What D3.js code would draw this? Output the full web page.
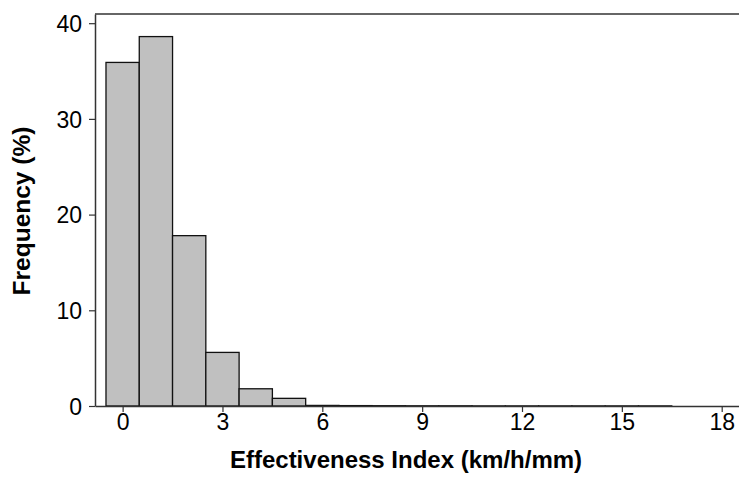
<!DOCTYPE html>
<html>
<head>
<meta charset="utf-8">
<script src="https://cdn.jsdelivr.net/npm/d3@7"></script>
<style>
  body { margin: 0; background: #fff; }
  svg { display: block; font-family: "Liberation Sans", Arial, sans-serif; }
</style>
</head>
<body>
<svg id="chart" width="739" height="479"></svg>
<script>
// histogram bins centred on 0..16, width 1
const binCenters = [0, 1, 2, 3, 4, 5, 6, 7, 8, 9, 10, 11, 12, 13, 14, 15, 16]
const frequency = [35.9, 38.6, 17.8, 5.6, 1.8, 0.8, 0.06, 0.04, 0.03, 0.02, 0.02, 0.01, 0.01, 0.01, 0.01, 0.01, 0.01]
const xTicks = [0, 3, 6, 9, 12, 15, 18]
const yTicks = [0, 10, 20, 30, 40]

const svg = d3.select('#chart')
const plotLeft = 95, plotRight = 739, plotTop = 14, plotBottom = 406

const x = d3.scaleLinear().domain([-0.83, 18.52]).range([plotLeft, plotRight])
const y = d3.scaleLinear().domain([0, 40.96]).range([plotBottom, plotTop])

// bars
svg.append('g')
  .selectAll('rect')
  .data(binCenters)
  .enter().append('rect')
  .attr('x', d => x(d - 0.5))
  .attr('width', d => x(d + 0.5) - x(d - 0.5))
  .attr('y', (d, i) => y(frequency[i]))
  .attr('height', (d, i) => y(0) - y(frequency[i]))
  .attr('fill', '#c0c0c0')
  .attr('stroke', '#111')
  .attr('stroke-width', 1.3)

// top frame line
svg.append('line')
  .attr('x1', plotLeft).attr('x2', plotRight)
  .attr('y1', plotTop).attr('y2', plotTop)
  .attr('stroke', '#333').attr('stroke-width', 1.5)

let xAxis = svg.append('g')
  .attr('transform', `translate(0,${plotBottom})`)
  .call(d3.axisBottom(x).tickValues(xTicks).tickSize(6).tickPadding(2).tickSizeOuter(0))
let yAxis = svg.append('g')
  .attr('transform', `translate(${plotLeft},0)`)
  .call(d3.axisLeft(y).tickValues(yTicks).tickSize(6).tickPadding(7).tickSizeOuter(0))

;[xAxis, yAxis].forEach(g => {
  g.select('.domain').attr('stroke', '#333').attr('stroke-width', 1.5)
  g.selectAll('.tick line').attr('stroke', '#333').attr('stroke-width', 1.2)
  g.selectAll('.tick text')
    .attr('fill', '#000')
    .style('font-family', '"Liberation Sans", Arial, sans-serif')
    .style('font-size', '23px')
})
yAxis.selectAll('.tick text').attr('dy', '0.36em')

svg.append('text')
  .attr('x', 406).attr('y', 468)
  .attr('text-anchor', 'middle')
  .style('font-size', '24px').style('font-weight', 'bold')
  .text('Effectiveness Index (km/h/mm)')

svg.append('text')
  .attr('transform', 'translate(30,211) rotate(-90)')
  .attr('text-anchor', 'middle')
  .style('font-size', '24.5px').style('font-weight', 'bold')
  .text('Frequency (%)')
</script>
</body>
</html>
